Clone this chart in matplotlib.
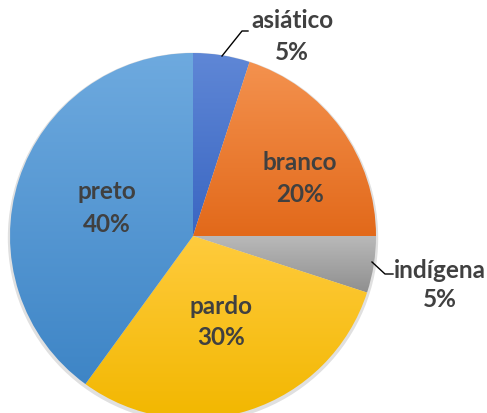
import numpy as np
import matplotlib
matplotlib.use("Agg")
import matplotlib.pyplot as plt
from matplotlib.colors import LinearSegmentedColormap

# dados
categorias = ["asiático", "branco", "indígena", "pardo", "preto"]
percentuais = [5, 20, 5, 30, 40]
rotulos = ["5%", "20%", "5%", "30%", "40%"]

# cores (topo, base) de cada fatia - gradiente estilo Excel
cores_topo = ["#5F87D6", "#F4924F", "#B9B9B9", "#FFCB3D", "#6EAADF"]
cores_base = ["#3A66C2", "#E2691A", "#8F8F8F", "#F2B700", "#3E85C6"]

R = 183.0
cx, cy = 193, 237
W, H = 487, 414


def px(x, y):
    # pixel -> coordenadas do eixo (raio = 1)
    return (x - cx) / R, (cy - y) / R


fig = plt.figure(figsize=(W / 100, H / 100), dpi=100)
ax = fig.add_axes([0, 0, 1, 1])
ax.set_xlim(-cx / R, (W - cx) / R)
ax.set_ylim(-(H - cy) / R, cy / R)
ax.set_aspect("equal")
ax.axis("off")

# sombra leve
sombra = plt.Circle((0.0, -0.01), 1.012, color="#000000", alpha=0.12, zorder=0, lw=0)
ax.add_patch(sombra)

wedges, _ = ax.pie(percentuais, startangle=90, counterclock=False,
                   colors=cores_base, radius=1.0,
                   wedgeprops=dict(linewidth=0))

grad = np.linspace(0, 1, 256).reshape(-1, 1)
for w, c1, c2 in zip(wedges, cores_topo, cores_base):
    w.set_facecolor("none")
    bb = w.get_path().get_extents(w.get_patch_transform())
    cmap = LinearSegmentedColormap.from_list("g", [c2, c1])
    im = ax.imshow(grad, cmap=cmap, origin="lower", aspect="auto",
                   extent=[bb.x0, bb.x1, bb.y0, bb.y1], zorder=1)
    im.set_clip_path(w)

ax.set_xlim(-cx / R, (W - cx) / R)
ax.set_ylim(-(H - cy) / R, cy / R)

# rótulos (centro em pixels)
pos_nome = [(292, 20), (300, 163), (440, 270), (221, 307), (107, 192)]
pos_pct = [(292, 52), (300, 195), (440, 300), (221, 338), (107, 225)]
fonte = dict(fontsize=17.5, fontweight="bold", color="#404040",
             family=["Lato", "DejaVu Sans"], ha="center", va="center", zorder=5)
for nome, pct, p1, p2 in zip(categorias, rotulos, pos_nome, pos_pct):
    ax.text(*px(*p1), nome, **fonte)
    ax.text(*px(*p2), pct, **fonte)

# linhas de chamada
for pts in [[(222, 57), (242, 32), (248, 32)],
            [(372, 263), (385, 275), (393, 275)]]:
    xs, ys = zip(*[px(*p) for p in pts])
    ax.plot(xs, ys, color="#000000", lw=1, zorder=4)

fig.savefig("out.png", dpi=100)
